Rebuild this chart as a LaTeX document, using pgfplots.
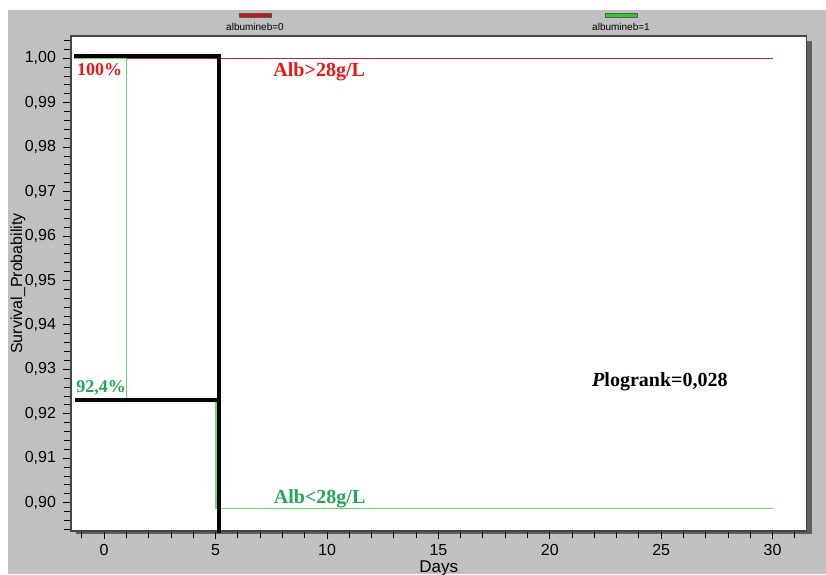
\documentclass[border=0pt]{standalone}
\usepackage{pgfplots}
\pgfplotsset{compat=1.18}
\usepackage{fontspec}
\setmainfont{Liberation Sans}
\newfontfamily\serifbf{Liberation Serif}

\definecolor{bggrey}{RGB}{192,192,192}
\definecolor{shadowgrey}{RGB}{95,95,95}
\definecolor{framegrey}{RGB}{70,70,70}
\definecolor{kmred}{RGB}{180,40,50}
\definecolor{kmgreen}{RGB}{110,215,110}
\definecolor{swred}{RGB}{200,20,20}
\definecolor{swgreen}{RGB}{40,205,40}
\definecolor{labred}{RGB}{240,20,20}
\definecolor{labgreen}{RGB}{30,170,80}

\begin{document}
\begin{tikzpicture}
\useasboundingbox (0,0) rectangle (413pt,287pt);
% page background and drop shadow of the plot frame
\fill[white] (0,0) rectangle (413pt,287pt);
\fill[bggrey] (4pt,0) rectangle (413pt,282pt);
\fill[shadowgrey] (38pt,20pt) rectangle (406pt,266.5pt);
% group key
\filldraw[fill=swred, draw=black!65, line width=0.3pt] (119.5pt,278.3pt) rectangle (135.5pt,280.5pt);
\node[font=\fontsize{5}{6}\selectfont] at (127.5pt,273.3pt) {albumineb=0};
\filldraw[fill=swgreen, draw=black!65, line width=0.3pt] (302.5pt,278.3pt) rectangle (318.5pt,280.5pt);
\node[font=\fontsize{5}{6}\selectfont] at (310.5pt,273.3pt) {albumineb=1};

\begin{axis}[
  at={(35.5pt,21.5pt)}, anchor=south west,
  scale only axis, width=367.75pt, height=247.5pt,
  xmin=-1.49, xmax=31.52, ymin=0.89363, ymax=1.00502,
  clip=false,
  axis background/.style={fill=white},
  axis line style={framegrey, line width=0.6pt},
  xtick={0,5,10,15,20,25,30},
  ytick={0.90,0.91,0.92,0.93,0.94,0.95,0.96,0.97,0.98,0.99,1.00},
  minor xtick={-1,...,31},
  minor ytick={0.894,0.896,0.898,0.902,0.904,0.906,0.908,0.912,0.914,0.916,0.918,
    0.922,0.924,0.926,0.928,0.932,0.934,0.936,0.938,0.942,0.944,0.946,0.948,
    0.952,0.954,0.956,0.958,0.962,0.964,0.966,0.968,0.972,0.974,0.976,0.978,
    0.982,0.984,0.986,0.988,0.992,0.994,0.996,0.998,1.002,1.004},
  xtick pos=left, ytick pos=left,
  tick align=outside,
  major tick length=4pt, minor tick length=3.5pt,
  tick style={black, line width=0.5pt},
  /pgf/number format/assume math mode=true,
  tick label style={font=\fontsize{8}{9}\selectfont},
  xticklabel style={yshift=1pt},
  yticklabel style={/pgf/number format/.cd, fixed, fixed zerofill, precision=2, use comma},
  xlabel={Days},
  ylabel={Survival\_Probability},
  every axis x label/.style={at={(axis description cs:0.5,-0.0757)}, anchor=center, font=\fontsize{8.5}{10}\selectfont},
  every axis y label/.style={at={(axis description cs:-0.072,0.5)}, anchor=center, rotate=90, font=\fontsize{8}{9}\selectfont},
]
% Kaplan-Meier curves
\addplot[kmred, line width=0.5pt] coordinates {(-1.35,1.0) (30,1.0)};
\addplot[kmgreen, line width=0.9pt] coordinates {(-1.35,1.0) (1,1.0) (1,0.9231) (5,0.9231) (5,0.8987) (30,0.8987)};
% highlighted survival levels at day 5
\addplot[black, line width=1.6pt] coordinates {(-1.35,1.0005) (5.15,1.0005) (5.15,0.8932)};
\addplot[black, line width=1.6pt] coordinates {(-1.32,0.9231) (5.15,0.9231)};

\node[anchor=west, inner sep=0, text=labred, font=\serifbf\bfseries\fontsize{9}{10}\selectfont] at (axis cs:-1.23,0.99737) {100\%};
\node[anchor=west, inner sep=0, text=labgreen, font=\serifbf\bfseries\fontsize{9}{10}\selectfont] at (axis cs:-1.27,0.92574) {92,4\%};
\node[anchor=west, inner sep=0, text=labred, font=\serifbf\bfseries\fontsize{10}{12}\selectfont] at (axis cs:7.58,0.99692) {Alb>28g/L};
\node[anchor=west, inner sep=0, text=labgreen, font=\serifbf\bfseries\fontsize{10}{12}\selectfont] at (axis cs:7.6,0.90099) {Alb<28g/L};
\node[anchor=west, inner sep=0, text=black, font=\serifbf\bfseries\fontsize{10}{12}\selectfont] at (axis cs:21.88,0.92716) {\textit{P}logrank=0,028};
\end{axis}
\end{tikzpicture}
\end{document}
